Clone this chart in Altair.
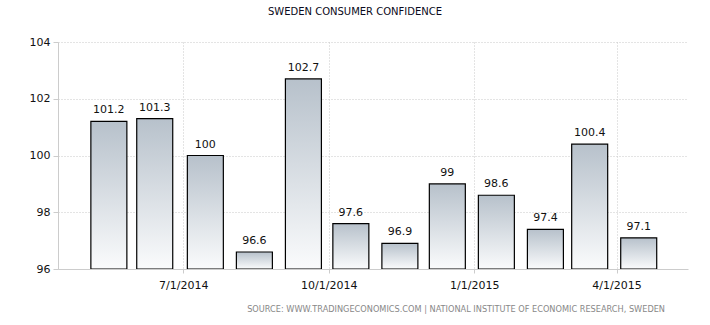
import altair as alt
import pandas as pd

dates = ["2014-05-15", "2014-06-13", "2014-07-15", "2014-08-15", "2014-09-15", "2014-10-15",
         "2014-11-15", "2014-12-15", "2015-01-15", "2015-02-15", "2015-03-15", "2015-04-15"]
values = [101.2, 101.3, 100, 96.6, 102.7, 97.6, 96.9, 99, 98.6, 97.4, 100.4, 97.1]
labels = ["101.2", "101.3", "100", "96.6", "102.7", "97.6", "96.9", "99", "98.6", "97.4", "100.4", "97.1"]
tick_dates = ["2014-07-01", "2014-10-01", "2015-01-01", "2015-04-01"]

df = pd.DataFrame({"date": dates, "value": values, "label": labels})

x_scale = alt.Scale(domain=["2014-04-16", "2015-05-13"], nice=False)
y_scale = alt.Scale(domain=[96, 104], nice=False, zero=False)

x_axis = alt.Axis(values=tick_dates, format="%-m/%-d/%Y", title=None, labelFont="DejaVu Sans",
                  labelFontSize=11, labelColor="#111", labelPadding=6, tickColor="#ccc", tickSize=4,
                  domainColor="#ccc", gridColor="#c8c8c8", gridDash=[1, 2], grid=True, labelAngle=0)
y_axis = alt.Axis(values=[96, 98, 100, 102, 104], title=None, labelFont="DejaVu Sans",
                  labelFontSize=11, labelColor="#111", labelPadding=3, tickColor="#ccc", tickSize=5,
                  domainColor="#ccc", gridColor="#c8c8c8", gridDash=[1, 2], grid=True)

gradient = alt.Gradient(
    gradient="linear",
    stops=[alt.GradientStop(color="#b7c1cb", offset=0), alt.GradientStop(color="#fafbfc", offset=1)],
    x1=0, x2=0, y1=0, y2=1,
)

base = alt.Chart(df)

bars = base.mark_bar(size=36, color=gradient, stroke="#000", strokeWidth=1.2, clip=True).encode(
    x=alt.X("date:T", scale=x_scale, axis=x_axis),
    y=alt.Y("value:Q", scale=y_scale, axis=y_axis),
    y2=alt.datum(96),
)

text = base.mark_text(dy=-11, font="DejaVu Sans", fontSize=11, color="#111").encode(
    x=alt.X("date:T", scale=x_scale),
    y=alt.Y("value:Q", scale=y_scale),
    text="label:N",
)

source = alt.Chart(pd.DataFrame({"t": ["SOURCE:  WWW.TRADINGECONOMICS.COM  |  NATIONAL  INSTITUTE  OF  ECONOMIC  RESEARCH,  SWEDEN"]})).mark_text(
    font="DejaVu Sans", fontSize=8.2, color="#888", align="right", baseline="middle"
).encode(text="t:N", x=alt.value(607), y=alt.value(268))

chart = alt.layer(bars, text, source).properties(
    width=630, height=227,
    background="white",
    title=alt.TitleParams("SWEDEN CONSUMER CONFIDENCE", font="DejaVu Sans", fontSize=10,
                          fontWeight=500, color="#0a0a20", anchor="middle", offset=19, dx=-18),
    padding={"left": 58, "top": 42, "right": 22, "bottom": 56},
    autosize=alt.AutoSizeParams(type="none"),
).configure_view(stroke=None)

chart.save("out.html", embed_options={"renderer": "svg", "actions": False})
